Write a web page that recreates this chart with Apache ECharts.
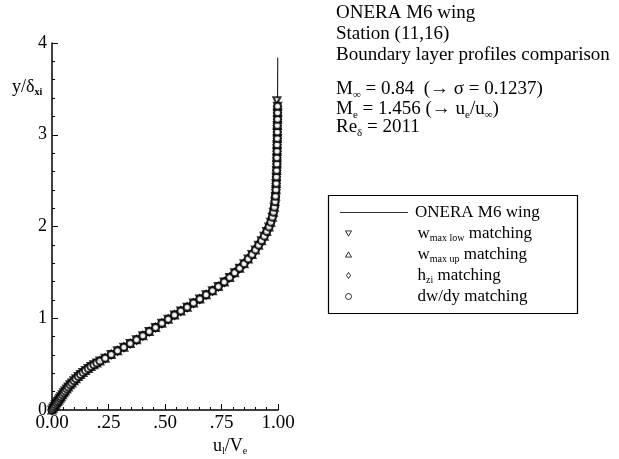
<!DOCTYPE html>
<html><head><meta charset="utf-8">
<script src="https://cdn.jsdelivr.net/npm/echarts@6/dist/echarts.min.js"></script>
<style>html,body{margin:0;padding:0;background:#fff}#c{width:619px;height:459px}</style>
</head><body><div id="c"></div>
<script>
const SERIF = '"Liberation Serif", "Times New Roman", serif';

// tick labels
const xTickLabels = ['0.00', '.25', '.50', '.75', '1.00'];
const yTickLabels = ['0', '1', '2', '3', '4'];

// series names
const nameOnera = 'ONERA M6 wing';
const nameLow = 'wmaxlow';
const nameUp = 'wmaxup';
const nameHzi = 'hzi';
const nameDw = 'dwdy';

// ONERA M6 wing profile (u_l/V_e , y/δ_xi)
const oneraU = [0, 0.02, 0.04, 0.058, 0.08, 0.106, 0.137, 0.172, 0.212, 0.262, 0.318, 0.374, 0.43, 0.486, 0.542, 0.598, 0.654, 0.71, 0.762, 0.808, 0.85, 0.885, 0.914, 0.939, 0.96, 0.975, 0.984, 0.989, 0.992, 0.994, 0.995, 0.996, 0.997, 0.998, 0.999];
const oneraY = [0, 0.075, 0.145, 0.208, 0.275, 0.34, 0.41, 0.473, 0.533, 0.605, 0.685, 0.765, 0.855, 0.945, 1.035, 1.12, 1.21, 1.3, 1.395, 1.495, 1.595, 1.695, 1.795, 1.895, 1.995, 2.1, 2.21, 2.33, 2.47, 2.61, 2.75, 2.89, 3.03, 3.31, 3.84];

// matching profiles (all four coincide)
const matchU = [0.000, 0.005, 0.010, 0.015, 0.020, 0.025, 0.030, 0.035, 0.040, 0.046, 0.052, 0.058, 0.065, 0.072, 0.080, 0.088, 0.097, 0.106, 0.116, 0.126, 0.137, 0.148, 0.160, 0.172, 0.185, 0.198, 0.212,
  0.235, 0.262, 0.290, 0.318, 0.346, 0.374, 0.402, 0.430, 0.458, 0.486, 0.514, 0.542, 0.570, 0.598, 0.626, 0.654, 0.682, 0.710, 0.736, 0.762, 0.786, 0.808, 0.830, 0.850, 0.868, 0.885, 0.900, 0.914, 0.927, 0.939, 0.950, 0.960, 0.968, 0.975, 0.980, 0.984, 0.987, 0.989, 0.991, 0.992, 0.993, 0.994, 0.995, 0.995, 0.996, 0.996, 0.997, 0.997, 0.997, 0.998, 0.998, 0.998];
const matchY = [0.000, 0.019, 0.038, 0.056, 0.075, 0.093, 0.110, 0.128, 0.145, 0.166, 0.187, 0.208, 0.230, 0.251, 0.275, 0.295, 0.318, 0.340, 0.365, 0.387, 0.410, 0.431, 0.452, 0.473, 0.493, 0.512, 0.533,
  0.565, 0.605, 0.645, 0.685, 0.725, 0.765, 0.810, 0.855, 0.900, 0.945, 0.990, 1.035, 1.080, 1.120, 1.165, 1.210, 1.255, 1.300, 1.345, 1.395, 1.445, 1.495, 1.545, 1.595, 1.645, 1.695, 1.745, 1.795, 1.845, 1.895, 1.945, 1.995, 2.045, 2.100, 2.155, 2.210, 2.270, 2.330, 2.400, 2.470, 2.540, 2.610, 2.680, 2.750, 2.820, 2.890, 2.960, 3.030, 3.100, 3.170, 3.240, 3.310];
// extra top point of w_max low matching
const lowExtraU = [0.995];
const lowExtraY = [3.37];

const zip = (a, b) => a.map((v, i) => [v, b[i]]);

const legendLabels = {
  'ONERA M6 wing': '{g| }{t|ONERA M6 wing}',
  'wmaxlow': '{g| }{t|w}{s|max low}{t| matching}',
  'wmaxup': '{g| }{t|w}{s|max up}{t| matching}',
  'hzi': '{g| }{t|h}{s|zi}{t| matching}',
  'dwdy': '{g| }{t|dw/dy matching}'
};

const legendText = (gap) => ({
  fontFamily: SERIF, fontSize: 17, color: '#000',
  rich: {
    g: { width: gap, fontSize: 17, lineHeight: 19, fontFamily: SERIF },
    t: { fontFamily: SERIF, fontSize: 17, lineHeight: 19, color: '#000' },
    s: { fontFamily: SERIF, fontSize: 10, lineHeight: 9, verticalAlign: 'bottom', color: '#000' }
  }
});

const mk = (name, symbol, rot, data, z) => ({
  type: 'scatter', name, data, symbol, symbolRotate: rot, symbolSize: 7,
  itemStyle: { color: '#000', borderWidth: 2 }, z
});

const chart = echarts.init(document.getElementById('c'));
const titleRich = {
  a: { fontFamily: SERIF, fontSize: 19, lineHeight: 22, color: '#000' },
  s: { fontFamily: SERIF, fontSize: 11, lineHeight: 11, verticalAlign: 'bottom', color: '#000' }
};
const tline = (y, text) => ({
  type: 'text', left: 336, top: y - 11,
  style: { text, rich: titleRich, fill: '#000' }
});
const hollow = { color: '#fff', borderColor: '#000', borderWidth: 1 };

chart.setOption({
  animation: false,
  backgroundColor: '#fff',
  grid: { left: 52, right: 341, top: 43, bottom: 49 },
  xAxis: {
    type: 'value', min: 0, max: 1, interval: 0.25,
    axisLine: { show: true, onZero: false, lineStyle: { color: '#000', width: 1.5 } },
    axisTick: { show: true, inside: true, length: 6, lineStyle: { color: '#000', width: 1 } },
    minorTick: { show: true, splitNumber: 5, length: 3, lineStyle: { color: '#000', width: 1 } },
    splitLine: { show: false },
    axisLabel: { fontFamily: SERIF, fontSize: 19, color: '#000', margin: 4,
      formatter: v => xTickLabels[Math.round(v / 0.25)] }
  },
  yAxis: {
    type: 'value', min: 0, max: 4, interval: 1,
    axisLine: { show: true, onZero: false, lineStyle: { color: '#000', width: 1.5 } },
    axisTick: { show: true, inside: true, length: 6, lineStyle: { color: '#000', width: 1 } },
    minorTick: { show: true, splitNumber: 5, length: 3, lineStyle: { color: '#000', width: 1 } },
    splitLine: { show: false },
    axisLabel: { fontFamily: SERIF, fontSize: 18, color: '#000', margin: 5,
      formatter: v => yTickLabels[Math.round(v)] }
  },
  legend: [
    {
      data: [{ name: nameOnera, icon: 'rect' }], orient: 'vertical', left: 340, top: 204, padding: 0,
      itemWidth: 68, itemHeight: 1, selectedMode: false,
      itemStyle: { color: '#333' },
      formatter: n => legendLabels[n], textStyle: legendText(2)
    },
    {
      data: [
        { name: nameLow, icon: 'path://M0,0L10,0L5,8.66Z', itemStyle: hollow },
        { name: nameUp, icon: 'path://M5,0L10,8.66L0,8.66Z', itemStyle: hollow },
        { name: nameHzi, icon: 'path://M5,0L9,6L5,12L1,6Z', itemStyle: hollow },
        { name: nameDw, icon: 'circle', itemStyle: hollow }
      ],
      orient: 'vertical', left: 345, top: 225, padding: 0,
      itemWidth: 6, itemHeight: 6, itemGap: 3, selectedMode: false,
      formatter: n => legendLabels[n], textStyle: legendText(61)
    }
  ],
  graphic: [
    { type: 'rect', shape: { x: 328.5, y: 195.5, width: 249, height: 118 },
      style: { fill: 'none', stroke: '#000', lineWidth: 1.2 }, silent: true },
    tline(15, '{a|ONERA M6 wing}'),
    tline(36, '{a|Station (11,16)}'),
    tline(57, '{a|Boundary layer profiles comparison}'),
    tline(91, '{a|M}{s|∞}{a| = 0.84  (→ σ = 0.1237)}'),
    tline(111, '{a|M}{s|e}{a| = 1.456 (→ u}{s|e}{a|/u}{s|∞}{a|)}'),
    tline(129, '{a|Re}{s|δ}{a| = 2011}'),
    { type: 'text', left: 12, top: 78,
      style: { text: '{a|y/δ}{s|xi}', fill: '#000', rich: {
        a: { fontFamily: SERIF, fontSize: 18, lineHeight: 21, color: '#000' },
        s: { fontFamily: SERIF, fontSize: 10, fontWeight: 'bold', lineHeight: 10, verticalAlign: 'bottom', color: '#000' } } } },
    { type: 'text', left: 213, top: 437,
      style: { text: '{a|u}{s|l}{a|/V}{s|e}', fill: '#000', rich: {
        a: { fontFamily: SERIF, fontSize: 18, lineHeight: 21, color: '#000' },
        s: { fontFamily: SERIF, fontSize: 10, lineHeight: 10, verticalAlign: 'bottom', color: '#000' } } } }
  ],
  series: [
    { type: 'line', name: nameOnera, data: zip(oneraU, oneraY), symbol: 'none',
      lineStyle: { color: '#000', width: 1 }, itemStyle: { color: '#000' }, z: 2 },
    mk(nameLow, 'emptyTriangle', 180, zip(matchU, matchY).concat(zip(lowExtraU, lowExtraY)), 3),
    mk(nameUp, 'emptyTriangle', 0, zip(matchU, matchY), 4),
    mk(nameHzi, 'emptyDiamond', 0, zip(matchU, matchY), 5),
    mk(nameDw, 'emptyCircle', 0, zip(matchU, matchY), 6)
  ]
});
</script></body></html>
